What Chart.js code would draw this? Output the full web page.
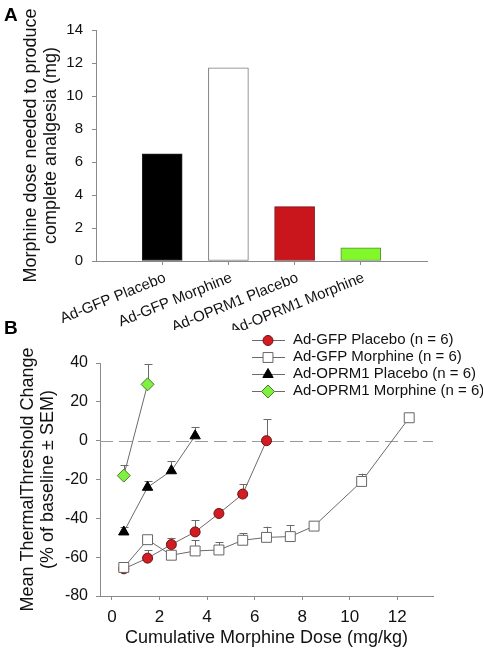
<!DOCTYPE html>
<html><head><meta charset="utf-8">
<script src="https://cdn.jsdelivr.net/npm/chart.js@4/dist/chart.umd.min.js"></script>
<style>
html,body{margin:0;padding:0;background:#fff;width:483px;height:654px;overflow:hidden;}
#wrapA{position:absolute;left:0;top:0;width:483px;height:330px;}
#wrapB{position:absolute;left:0;top:300px;width:483px;height:354px;}
.panel{position:absolute;font:bold 19px "Liberation Sans",Arial,sans-serif;color:#000;line-height:1;}
</style></head><body>
<div id="wrapA"><canvas id="cA" width="483" height="330"></canvas></div>
<div id="wrapB"><canvas id="cB" width="483" height="354"></canvas></div>
<div class="panel" style="left:4px;top:5px">A</div>
<div class="panel" style="left:4px;top:318px">B</div>
<script>
// ---------- Panel A data ----------
const barCategories = ['Ad-GFP Placebo', 'Ad-GFP Morphine', 'Ad-OPRM1 Placebo', 'Ad-OPRM1 Morphine'];
const barValues = [6.5, 11.7, 3.3, 0.8];
const barYTicks = [0, 2, 4, 6, 8, 10, 12, 14];

// ---------- Panel B data ----------
const gfpPlaceboDose = [0.5, 1.5, 2.5, 3.5, 4.5, 5.5, 6.5];
const gfpPlaceboMean = [-66, -60.5, -53.5, -47, -37.5, -27.5, 0];
const gfpPlaceboSem  = [1, 4, 3.5, 6, 2.5, 5, 11];

const gfpMorphineDose = [0.5, 1.5, 2.5, 3.5, 4.5, 5.5, 6.5, 7.5, 8.5, 10.5, 12.5];
const gfpMorphineMean = [-65.3, -51, -59, -56.8, -56.3, -51.3, -49.8, -49.4, -44, -21, 11.8];
const gfpMorphineSem  = [1, 1.5, 1, 5.5, 4, 3.5, 5.5, 6, 0.5, 4, 1.5];

const oprmPlaceboDose = [0.5, 1.5, 2.5, 3.5];
const oprmPlaceboMean = [-47, -24, -15.5, 2.5];
const oprmPlaceboSem  = [2.5, 3, 5, 4.5];

const oprmMorphineDose = [0.5, 1.5];
const oprmMorphineMean = [-18, 29];
const oprmMorphineSem  = [5.5, 10.5];

const doseTicks = [0, 2, 4, 6, 8, 10, 12];
const refLineValue = 0;

const FAMILY = '"Liberation Sans", Arial, Helvetica, sans-serif';
const AXIS = '#8a8a8a';
const TXT = '#111';

function zip(xs, ys) { return xs.map((x, i) => ({ x: x, y: ys[i] })); }

// ---------- Panel A ----------
new Chart(document.getElementById('cA'), {
  type: 'bar',
  data: {
    datasets: [{
      data: barCategories.map((c, i) => ({ x: i + 1, y: barValues[i] })),
      backgroundColor: ['#000000', '#ffffff', '#c8161c', '#80f82a'],
      borderColor: ['#222222', '#7a7a7a', '#7a1010', '#5a8a3a'],
      borderWidth: 1,
      barThickness: 40,
      borderSkipped: false
    }]
  },
  options: {
    responsive: false, animation: false, events: [],
    layout: { padding: { top: 30, right: 56, left: 0, bottom: 0 } },
    plugins: { legend: { display: false }, tooltip: { enabled: false } },
    scales: {
      x: {
        type: 'linear', min: 0, max: barCategories.length + 1, offset: false,
        afterBuildTicks: s => { s.ticks = barCategories.map((c, i) => ({ value: i + 1 })); },
        afterFit: s => { s.height = 69; },
        grid: { display: true, drawOnChartArea: false, drawTicks: true, tickLength: 4, color: AXIS, offset: false },
        border: { color: AXIS },
        ticks: {
          autoSkip: false, maxRotation: 22, minRotation: 22, padding: 4, labelOffset: 3, color: TXT,
          font: { size: 15, family: FAMILY },
          callback: (v, i) => barCategories[i]
        }
      },
      y: {
        min: 0, max: 14,
        afterBuildTicks: s => { s.ticks = barYTicks.map(v => ({ value: v })); },
        afterFit: s => { s.width = 96; },
        grid: { drawOnChartArea: false, tickLength: 4, color: AXIS },
        border: { color: AXIS },
        ticks: { padding: 9, color: TXT, font: { size: 15, family: FAMILY } },
        title: {
          display: true, text: ['Morphine dose needed to produce', 'complete analgesia (mg)'],
          color: TXT, font: { size: 18, family: FAMILY, lineHeight: 1.1 }, padding: { top: 21, bottom: 0 }
        }
      }
    }
  }
});

// ---------- Panel B plugins ----------
const refLinePlugin = {
  id: 'refLine',
  beforeDatasetsDraw(chart) {
    const { ctx, chartArea, scales } = chart;
    const y = Math.round(scales.y.getPixelForValue(refLineValue)) + 0.5;
    ctx.save();
    ctx.strokeStyle = '#9a9a9a'; ctx.lineWidth = 1; ctx.setLineDash([13, 6]);
    ctx.beginPath(); ctx.moveTo(chartArea.left, y); ctx.lineTo(chartArea.right, y); ctx.stroke();
    ctx.restore();
  }
};
const errorBarPlugin = {
  id: 'errorBars',
  beforeDatasetsDraw(chart) {
    const { ctx, scales } = chart;
    ctx.save();
    ctx.strokeStyle = '#6a6a6a'; ctx.lineWidth = 1;
    chart.data.datasets.forEach((ds, di) => {
      const meta = chart.getDatasetMeta(di);
      ds.data.forEach((pt, j) => {
        const el = meta.data[j];
        const top = scales.y.getPixelForValue(pt.y + ds.errors[j]);
        const x = Math.round(el.x) + 0.5;
        ctx.beginPath();
        ctx.moveTo(x, el.y); ctx.lineTo(x, top);
        ctx.moveTo(x - 4, Math.round(top) + 0.5); ctx.lineTo(x + 4, Math.round(top) + 0.5);
        ctx.stroke();
      });
    });
    ctx.restore();
  }
};
function drawMarker(ctx, ds, x, y) {
  ctx.fillStyle = ds.pointBackgroundColor;
  ctx.strokeStyle = ds.pointBorderColor;
  ctx.lineWidth = 1;
  const opts = { pointStyle: ds.pointStyle, rotation: 0, radius: ds.pointRadius, borderWidth: 1 };
  if (Chart.helpers && Chart.helpers.drawPoint) { Chart.helpers.drawPoint(ctx, opts, x, y); return; }
  const r = ds.pointRadius;
  ctx.beginPath();
  if (ds.pointStyle === 'circle') ctx.arc(x, y, r, 0, Math.PI * 2);
  else if (ds.pointStyle === 'rect') { const s = r * Math.SQRT1_2; ctx.rect(x - s, y - s, 2 * s, 2 * s); }
  else if (ds.pointStyle === 'rectRot') { ctx.moveTo(x, y - r); ctx.lineTo(x + r, y); ctx.lineTo(x, y + r); ctx.lineTo(x - r, y); ctx.closePath(); }
  else { ctx.moveTo(x, y - r); ctx.lineTo(x + r * 0.866, y + r / 2); ctx.lineTo(x - r * 0.866, y + r / 2); ctx.closePath(); }
  ctx.fill(); ctx.stroke();
}
const legendPlugin = {
  id: 'customLegend',
  afterDraw(chart) {
    const { ctx } = chart;
    const x0 = 252, x1 = 285, xm = 268, xt = 293, y0 = 39.5, dy = 17.1;
    ctx.save();
    chart.data.datasets.forEach((ds, i) => {
      const y = y0 + i * dy;
      ctx.strokeStyle = ds.borderColor; ctx.lineWidth = 1;
      ctx.beginPath(); ctx.moveTo(x0, Math.round(y) + 0.5); ctx.lineTo(x1, Math.round(y) + 0.5); ctx.stroke();
      drawMarker(ctx, ds, xm, Math.round(y) + 0.5);
      ctx.fillStyle = TXT; ctx.font = '15px ' + FAMILY; ctx.textBaseline = 'middle'; ctx.textAlign = 'left';
      ctx.fillText(ds.label, xt, y + 0.5);
    });
    ctx.restore();
  }
};

// ---------- Panel B ----------
const lineCommon = { borderColor: '#6a6a6a', borderWidth: 1, pointBorderWidth: 1, fill: false, tension: 0 };
new Chart(document.getElementById('cB'), {
  type: 'line',
  data: {
    datasets: [
      Object.assign({ label: 'Ad-GFP Placebo (n = 6)', data: zip(gfpPlaceboDose, gfpPlaceboMean), errors: gfpPlaceboSem,
        pointStyle: 'circle', pointRadius: 5, pointBackgroundColor: '#d01c22', pointBorderColor: '#701010', order: 4 }, lineCommon),
      Object.assign({ label: 'Ad-GFP Morphine (n = 6)', data: zip(gfpMorphineDose, gfpMorphineMean), errors: gfpMorphineSem,
        pointStyle: 'rect', pointRadius: 7, pointBackgroundColor: '#ffffff', pointBorderColor: '#666666', order: 3 }, lineCommon),
      Object.assign({ label: 'Ad-OPRM1 Placebo (n = 6)', data: zip(oprmPlaceboDose, oprmPlaceboMean), errors: oprmPlaceboSem,
        pointStyle: 'triangle', pointRadius: 6, pointBackgroundColor: '#000000', pointBorderColor: '#000000', order: 2 }, lineCommon),
      Object.assign({ label: 'Ad-OPRM1 Morphine (n = 6)', data: zip(oprmMorphineDose, oprmMorphineMean), errors: oprmMorphineSem,
        pointStyle: 'rectRot', pointRadius: 6.5, pointBackgroundColor: '#80f040', pointBorderColor: '#4a7a2a', order: 1 }, lineCommon)
    ]
  },
  options: {
    responsive: false, animation: false, events: [],
    layout: { padding: { top: 63, right: 50, left: 0, bottom: 0 } },
    plugins: { legend: { display: false }, tooltip: { enabled: false } },
    scales: {
      x: {
        type: 'linear', min: -0.5, max: 13.5,
        afterBuildTicks: s => { s.ticks = doseTicks.map(v => ({ value: v })); },
        afterFit: s => { s.height = 58; },
        grid: { drawOnChartArea: false, tickLength: 4, color: AXIS },
        border: { color: AXIS },
        ticks: { padding: 7, color: TXT, font: { size: 17, family: FAMILY } },
        title: { display: true, text: 'Cumulative Morphine Dose (mg/kg)', color: TXT,
          font: { size: 18, family: FAMILY, lineHeight: 1.1 }, padding: { top: 0, bottom: 6 } }
      },
      y: {
        min: -80, max: 40,
        ticks: { stepSize: 20, padding: 8, color: TXT, font: { size: 16, family: FAMILY } },
        afterFit: s => { s.width = 100; },
        grid: { drawOnChartArea: false, tickLength: 4, color: AXIS },
        border: { color: AXIS },
        title: { display: true, text: ['Mean ThermalThreshold Change', '(% of baseline \u00b1 SEM)'], color: TXT,
          font: { size: 18, family: FAMILY, lineHeight: 1.1 }, padding: { top: 18, bottom: 0 } }
      }
    }
  },
  plugins: [refLinePlugin, errorBarPlugin, legendPlugin]
});
</script>
</body></html>
